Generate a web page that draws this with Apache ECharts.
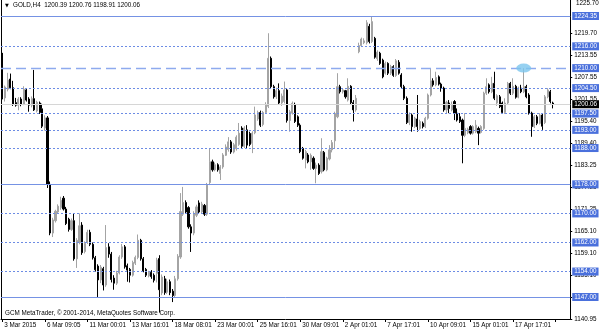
<!DOCTYPE html>
<html><head><meta charset="utf-8">
<script src="https://cdn.jsdelivr.net/npm/echarts@6/dist/echarts.min.js"></script>
<style>html,body{margin:0;padding:0;background:#fff}#c{width:600px;height:333px}</style>
</head><body><div id="c"></div>
<script>
// ---- data (H4 candles) ----
const opens = [1213.6,1201.8,1204.2,1207.0,1204.6,1200.5,1199.8,1201.5,1200.0,1204.0,1201.5,1199.8,1201.6,1198.2,1200.4,1198.8,1193.5,1196.3,1178.0,1164.6,1168.0,1170.4,1171.6,1174.2,1171.2,1168.4,1165.6,1168.0,1157.5,1162.0,1166.8,1159.5,1162.0,1164.8,1161.5,1157.8,1155.5,1151.7,1154.8,1150.3,1160.8,1158.8,1152.2,1150.8,1153.6,1158.0,1160.8,1155.6,1154.6,1153.0,1156.3,1157.9,1162.6,1157.5,1154.6,1152.8,1153.8,1153.0,1153.5,1157.6,1148.1,1152.0,1148.3,1151.2,1148.6,1147.4,1152.0,1158.0,1169.8,1173.0,1171.6,1166.3,1164.6,1169.5,1172.9,1170.4,1172.2,1169.8,1178.5,1184.2,1182.0,1183.4,1181.0,1182.8,1186.0,1187.6,1189.7,1186.9,1187.8,1189.0,1193.5,1188.5,1193.0,1192.0,1189.3,1192.2,1196.0,1197.8,1194.5,1197.8,1199.5,1212.7,1204.9,1202.1,1203.8,1200.4,1200.8,1204.0,1195.6,1197.6,1200.0,1196.6,1194.3,1187.9,1184.7,1186.1,1184.2,1185.2,1182.4,1183.3,1181.5,1186.8,1182.0,1185.0,1187.5,1190.0,1196.6,1204.9,1203.5,1203.8,1201.2,1205.0,1200.5,1198.5,1214.5,1216.2,1217.0,1217.0,1221.5,1217.3,1218.2,1212.6,1214.1,1212.2,1208.6,1211.3,1208.6,1210.4,1208.0,1211.6,1208.1,1204.9,1201.7,1195.0,1197.1,1193.9,1196.0,1193.4,1194.8,1193.9,1196.2,1202.6,1206.5,1205.4,1207.6,1205.6,1204.5,1198.5,1200.4,1198.5,1200.8,1197.6,1196.6,1195.7,1191.5,1192.2,1193.9,1192.1,1192.5,1193.4,1192.3,1193.4,1203.1,1205.4,1203.5,1205.8,1200.4,1202.1,1200.4,1197.8,1200.4,1205.8,1203.1,1205.0,1202.0,1204.5,1203.5,1204.9,1202.6,1197.6,1193.9,1196.6,1194.8,1197.1,1195.0,1202.1,1203.5,1200.39];
const closes = [1201.8,1204.8,1206.7,1204.6,1200.0,1199.8,1201.5,1200.0,1204.2,1201.2,1199.8,1201.6,1198.5,1200.6,1197.8,1194.0,1196.3,1178.0,1164.6,1168.2,1170.6,1172.0,1173.6,1171.2,1167.2,1165.6,1168.0,1157.5,1162.6,1166.6,1159.2,1161.8,1164.8,1161.5,1157.8,1154.5,1151.7,1155.2,1150.3,1160.6,1158.8,1151.8,1150.8,1153.6,1158.0,1160.8,1155.3,1154.4,1153.0,1156.5,1157.9,1162.6,1157.5,1154.2,1153.0,1153.8,1152.6,1151.6,1157.2,1149.0,1152.5,1148.2,1151.2,1148.2,1147.4,1152.0,1158.2,1170.5,1173.0,1170.4,1166.3,1164.6,1170.0,1171.8,1170.4,1172.6,1169.8,1177.8,1184.2,1182.0,1183.4,1182.0,1182.8,1186.1,1188.3,1189.7,1186.9,1188.9,1191.0,1192.1,1188.5,1193.5,1188.8,1189.0,1192.1,1197.1,1197.8,1194.3,1197.8,1199.8,1212.7,1204.9,1202.1,1203.8,1200.4,1202.3,1204.0,1195.6,1198.0,1200.3,1195.3,1194.3,1187.0,1185.2,1187.0,1184.2,1186.0,1182.4,1183.3,1181.0,1187.0,1182.0,1185.2,1187.5,1189.5,1197.5,1204.9,1203.5,1204.0,1202.1,1205.0,1200.5,1198.5,1201.7,1216.2,1218.0,1217.5,1222.5,1217.3,1222.8,1213.0,1214.4,1211.3,1207.6,1211.3,1208.6,1210.4,1208.0,1212.0,1208.6,1204.9,1201.7,1195.0,1197.2,1193.9,1196.2,1193.9,1195.3,1193.9,1196.2,1202.6,1206.5,1205.4,1207.4,1205.6,1204.5,1198.5,1200.6,1198.9,1199.8,1197.6,1195.7,1195.3,1191.5,1193.4,1193.2,1192.1,1193.9,1194.3,1192.1,1193.9,1203.1,1204.9,1203.5,1205.8,1201.7,1202.4,1199.4,1197.8,1200.4,1205.8,1203.1,1205.0,1202.0,1204.5,1203.5,1204.9,1202.1,1197.6,1193.9,1196.6,1194.8,1197.1,1194.0,1202.1,1204.0,1200.8,1200.06];
const lows = [1201.4,1200.8,1203.6,1204.2,1199.6,1199.4,1198.4,1199.5,1199.8,1200.8,1198.0,1199.2,1198.2,1197.8,1197.4,1193.5,1192.8,1177.0,1164.0,1163.5,1167.5,1170.0,1171.0,1170.8,1166.8,1165.0,1165.2,1157.0,1155.0,1161.5,1158.6,1159.0,1161.6,1161.0,1157.3,1154.0,1147.0,1150.8,1148.8,1149.8,1157.8,1151.0,1149.0,1150.3,1153.2,1157.5,1154.8,1151.2,1151.0,1152.6,1155.8,1157.4,1157.0,1153.8,1152.5,1152.4,1152.0,1151.0,1151.0,1142.7,1147.5,1147.6,1147.8,1147.5,1145.6,1146.8,1151.5,1157.5,1169.3,1170.0,1165.8,1159.4,1164.0,1169.0,1170.0,1170.0,1169.3,1169.3,1177.8,1181.5,1181.6,1181.5,1179.2,1182.3,1185.8,1187.0,1186.4,1186.5,1187.3,1188.6,1188.0,1188.0,1187.9,1188.5,1186.6,1191.8,1195.5,1193.8,1194.0,1197.5,1199.0,1204.4,1201.6,1201.5,1200.0,1199.6,1200.3,1195.0,1192.5,1197.2,1194.9,1193.8,1186.6,1184.8,1182.4,1183.8,1182.0,1182.0,1178.3,1180.6,1181.0,1181.6,1181.6,1184.6,1186.8,1188.0,1196.2,1203.0,1203.0,1201.6,1200.8,1200.1,1195.3,1198.0,1214.1,1215.8,1216.6,1216.5,1216.8,1216.9,1212.6,1212.0,1210.9,1207.2,1208.2,1208.1,1208.1,1207.6,1207.6,1208.2,1204.5,1201.2,1194.6,1194.3,1192.5,1193.5,1192.5,1193.0,1193.4,1193.5,1195.8,1202.2,1204.9,1205.0,1205.2,1203.5,1198.0,1197.5,1197.6,1198.1,1195.7,1195.3,1194.9,1183.8,1191.0,1191.8,1191.7,1191.7,1192.1,1188.8,1192.0,1193.0,1202.6,1203.0,1203.1,1201.2,1199.6,1199.0,1197.4,1197.4,1200.0,1202.6,1202.6,1201.6,1201.7,1203.1,1203.1,1201.7,1197.2,1191.1,1193.5,1194.3,1194.5,1193.0,1194.6,1201.7,1200.3,1198.91];
const highs = [1214.2,1205.2,1208.7,1208.5,1206.5,1201.8,1202.0,1202.0,1205.0,1204.5,1202.0,1202.2,1209.5,1201.0,1200.8,1200.2,1197.0,1196.8,1178.8,1168.8,1171.0,1172.5,1174.6,1174.8,1171.8,1168.8,1168.6,1170.0,1163.2,1170.0,1167.6,1162.3,1165.5,1165.5,1162.0,1158.3,1156.0,1155.8,1155.3,1166.8,1161.8,1159.4,1153.0,1154.2,1158.5,1161.6,1161.3,1156.2,1155.0,1157.0,1158.4,1164.2,1163.0,1158.0,1155.0,1154.2,1154.4,1153.5,1157.8,1158.5,1153.2,1152.8,1152.0,1151.8,1149.2,1152.8,1158.8,1175.6,1177.3,1173.6,1172.0,1167.0,1170.6,1172.4,1173.6,1173.2,1172.6,1178.4,1188.0,1184.8,1184.0,1183.8,1183.3,1186.6,1189.0,1191.0,1190.2,1189.4,1191.5,1194.9,1194.0,1194.0,1194.3,1192.5,1192.6,1199.4,1198.3,1198.3,1198.2,1200.6,1219.6,1213.2,1205.4,1204.6,1205.8,1203.0,1206.3,1204.4,1198.5,1200.8,1200.5,1197.0,1194.8,1188.3,1187.5,1186.6,1186.5,1185.7,1184.0,1183.8,1190.7,1187.2,1185.6,1188.8,1190.2,1198.0,1208.6,1205.4,1204.5,1204.0,1207.2,1205.3,1201.2,1202.6,1217.0,1218.4,1218.2,1223.2,1222.2,1224.2,1218.6,1214.9,1214.5,1212.6,1211.8,1211.6,1210.9,1210.8,1212.5,1212.2,1208.6,1205.4,1202.2,1197.8,1197.5,1196.6,1202.6,1195.8,1195.3,1196.6,1203.0,1210.0,1207.2,1209.0,1208.0,1206.0,1204.9,1201.0,1201.2,1200.8,1201.2,1198.9,1197.6,1196.1,1197.6,1193.6,1194.3,1194.3,1195.7,1193.9,1194.3,1203.5,1207.2,1205.8,1207.6,1209.0,1202.8,1202.6,1200.8,1201.7,1206.2,1206.2,1207.2,1205.4,1204.9,1205.4,1210.0,1205.4,1203.1,1198.0,1197.1,1197.1,1197.6,1197.6,1202.6,1204.5,1204.0,1200.76];
const dateLabels = ['3 Mar 2015','6 Mar 09:05','11 Mar 00:01','13 Mar 16:01','18 Mar 08:01','23 Mar 00:01','25 Mar 16:01','30 Mar 09:01','2 Apr 01:01','7 Apr 17:01','10 Apr 09:01','15 Apr 01:01','17 Apr 17:01'];
const barsPerLabel = 16;
const emptySlots = 6;
const priceTicks = [1140.95,1146.95,1153.10,1159.10,1165.10,1171.25,1177.25,1183.25,1189.40,1195.40,1201.55,1207.55,1213.55,1219.70];
const topPriceLabel = '1225.70';
const solidLevels = [1224.35,1178.00,1147.00];
const dottedLevels = [1216.00,1204.50,1197.50,1193.00,1188.00,1170.00,1162.00,1154.00];
const dashedLevels = [1210.00];
const currentPrice = 1200.06;
const markerBar = 196;
const markerPrice = 1210.00;
const headerText = 'GOLD,H4  1200.39 1200.76 1198.91 1200.06';
const footerText = 'GCM MetaTrader, © 2001-2014, MetaQuotes Software Corp.';

// ---- build ----
const candles = opens.map((o, i) => [o, closes[i], lows[i], highs[i]]);
const cats = [];
for (let i = 0; i < opens.length + emptySlots; i++) cats.push(String(i));

const FONT = 'Liberation Sans';
const FS = 6.3;
const boxLabel = (bg) => ({
  show: true, position: 'end', distance: 2,
  formatter: (p) => Number(p.value).toFixed(2),
  color: '#fff', backgroundColor: bg, padding: [1, 2, 0, 2],
  fontFamily: FONT, fontSize: FS, lineHeight: 7
});
const lines = [];
solidLevels.forEach(v => lines.push({yAxis: v, lineStyle: {color: '#7592e4', width: 1, type: 'solid'}, label: boxLabel('#4a70dc')}));
dottedLevels.forEach(v => lines.push({yAxis: v, lineStyle: {color: '#6d8ce4', width: 1, type: [2, 2]}, label: boxLabel('#4a70dc')}));
dashedLevels.forEach(v => lines.push({yAxis: v, lineStyle: {color: '#8eaaee', width: 1.3, type: [10, 5]}, label: boxLabel('#4a70dc')}));
lines.push({yAxis: currentPrice, lineStyle: {color: '#d6d6d6', width: 1, type: 'solid'}, label: boxLabel('#000')});

const chart = echarts.init(document.getElementById('c'), null, {renderer: 'canvas'});
chart.setOption({
  animation: false,
  backgroundColor: '#fff',
  textStyle: {fontFamily: FONT},
  grid: {left: 1, right: 28.5, top: 0, bottom: 14},
  xAxis: {
    type: 'category', data: cats, boundaryGap: true,
    axisLine: {show: true, lineStyle: {color: '#000', width: 1}},
    axisTick: {show: true, interval: barsPerLabel - 1, alignWithLabel: true, length: 3, lineStyle: {color: '#000'}},
    axisLabel: {
      interval: barsPerLabel - 1, align: 'left', margin: 3, padding: [0, 0, 0, 2],
      fontFamily: FONT, fontSize: FS, color: '#000',
      formatter: (v, idx) => dateLabels[Math.round(idx / barsPerLabel)] || ''
    },
    splitLine: {show: false}
  },
  yAxis: [{
    type: 'value', position: 'right', min: 1140.94, max: 1228.75, scale: true,
    axisLine: {show: true, lineStyle: {color: '#000', width: 1}},
    axisTick: {show: true, length: 2, customValues: priceTicks, lineStyle: {color: '#000'}},
    axisLabel: {customValues: priceTicks, margin: 4, fontFamily: FONT, fontSize: FS, color: '#000',
      formatter: (v) => Number(v).toFixed(2)},
    splitLine: {show: false}
  }, {
    type: 'value', position: 'left', min: 1140.94, max: 1228.75,
    axisLine: {show: true, lineStyle: {color: '#000', width: 1}},
    axisTick: {show: false}, axisLabel: {show: false}, splitLine: {show: false}
  }],
  graphic: [
    {type: 'text', left: 5, top: 3, style: {text: '▼', fontSize: 5, fill: '#000', fontFamily: 'DejaVu Sans'}},
    {type: 'text', left: 13, top: 2, style: {text: headerText, fontSize: FS, fill: '#000', fontFamily: FONT}},
    {type: 'text', left: 5, top: 310, style: {text: footerText, fontSize: FS, fill: '#000', fontFamily: FONT}},
    {type: 'text', left: 576, top: 0, style: {text: topPriceLabel, fontSize: FS, fill: '#000', fontFamily: FONT}}
  ],
  series: [{
    type: 'candlestick', data: candles, barWidth: 1.6,
    itemStyle: {color: '#a4a4a4', color0: '#000', borderColor: '#a4a4a4', borderColor0: '#000', borderWidth: 1},
    markLine: {symbol: 'none', silent: true, animation: false, data: lines},
    z: 3
  }, {
    type: 'scatter', data: [[markerBar, markerPrice]], symbol: 'circle', symbolSize: [15, 9],
    itemStyle: {color: '#7cc6ee'}, z: 6, silent: true
  }]
});
</script></body></html>
